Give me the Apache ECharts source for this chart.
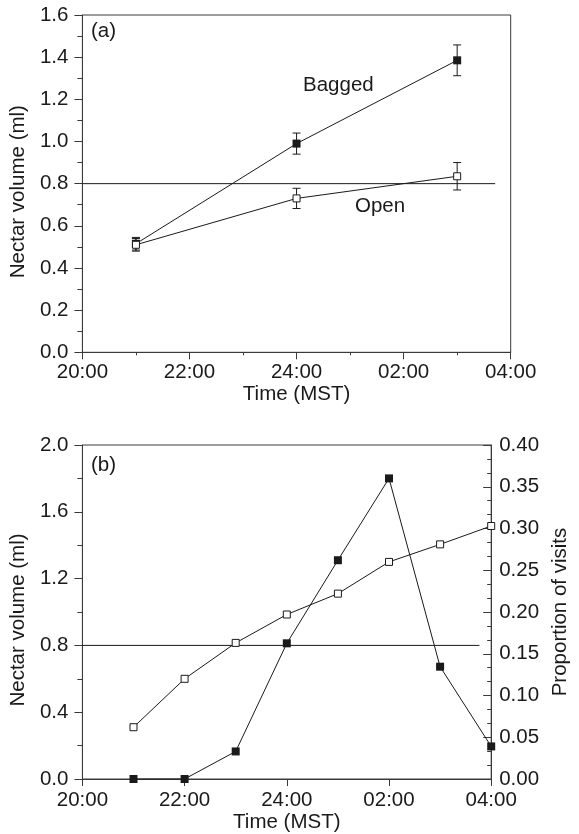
<!DOCTYPE html>
<html>
<head>
<meta charset="utf-8">
<script src="https://cdn.jsdelivr.net/npm/echarts@6/dist/echarts.min.js"></script>
<style>
html,body{margin:0;padding:0;background:#fff;}
#chart{width:579px;height:834px;}
</style>
</head>
<body>
<div id="chart"></div>
<script>
// ---- Data ----
const xTickLabels = ['20:00', '22:00', '24:00', '02:00', '04:00'];
const hoursA = [21, 24, 27];
const baggedA = [0.515, 0.99, 1.385];
const baggedErrA = [0.03, 0.05, 0.073];
const openA = [0.51, 0.73, 0.835];
const openErrA = [0.03, 0.048, 0.065];
const refLineA = [[20, 0.8], [27.71, 0.8]];

const hoursB = [21, 22, 23, 24, 25, 26, 27, 28];
const nectarB = [0.31, 0.60, 0.815, 0.985, 1.11, 1.30, 1.405, 1.515];
const visitsB = [0, 0, 0.033, 0.1625, 0.262, 0.36, 0.1345, 0.039];
const refLineB = [[20, 0.8], [27.77, 0.8]];

// ---- Styles ----
const ink = '#1a1a1a';
const axisInk = '#3a3a3a';
const FONT = 'Liberation Sans, Arial, Helvetica, sans-serif';
const FS = 20.5;

const chart = echarts.init(document.getElementById('chart'), null, {renderer: 'canvas'});

function xLabel(v) {
  const i = Math.round((v - 20) / 2);
  return xTickLabels[i] !== undefined ? xTickLabels[i] : '';
}

function makeX(gridIndex, minor, labelMargin, nameGap) {
  return {
    type: 'value', gridIndex: gridIndex, min: 20, max: 28, interval: 2,
    name: 'Time (MST)', nameLocation: 'middle', nameGap: nameGap,
    nameTextStyle: {fontFamily: FONT, fontSize: FS, color: ink},
    axisLine: {show: true, onZero: false, lineStyle: {color: axisInk, width: 1}},
    axisTick: {show: true, inside: false, length: 7, lineStyle: {color: axisInk}},
    minorTick: {show: minor, splitNumber: 2, length: 3, lineStyle: {color: axisInk}},
    axisLabel: {formatter: xLabel, fontFamily: FONT, fontSize: FS, color: ink, margin: labelMargin},
    splitLine: {show: false}
  };
}

function makeYLeft(gridIndex, max, interval) {
  return {
    type: 'value', gridIndex: gridIndex, min: 0, max: max, interval: interval,
    name: 'Nectar volume (ml)', nameLocation: 'middle', nameGap: 50, nameRotate: 90,
    nameTextStyle: {fontFamily: FONT, fontSize: FS, color: ink, padding: [0, 16, 0, 0]},
    axisLine: {show: true, lineStyle: {color: axisInk}},
    axisTick: {show: true, inside: false, length: 8, lineStyle: {color: axisInk}},
    minorTick: {show: true, splitNumber: 2, length: 5, lineStyle: {color: axisInk}},
    axisLabel: {formatter: v => v.toFixed(1), fontFamily: FONT, fontSize: FS, color: ink, margin: 14},
    splitLine: {show: false}
  };
}

function errRender(params, api) {
  const x = api.value(0), lo = api.value(1), hi = api.value(2);
  const pTop = api.coord([x, hi]);
  const pBot = api.coord([x, lo]);
  const w = 4;
  const st = {stroke: ink, lineWidth: 1};
  return {
    type: 'group',
    children: [
      {type: 'line', shape: {x1: pTop[0], y1: pTop[1], x2: pBot[0], y2: pBot[1]}, style: st},
      {type: 'line', shape: {x1: pTop[0] - w, y1: pTop[1], x2: pTop[0] + w, y2: pTop[1]}, style: st},
      {type: 'line', shape: {x1: pBot[0] - w, y1: pBot[1], x2: pBot[0] + w, y2: pBot[1]}, style: st}
    ]
  };
}

function errData(xs, ys, es) {
  return xs.map((x, i) => [x, ys[i] - es[i], ys[i] + es[i]]);
}
function pairs(xs, ys) { return xs.map((x, i) => [x, ys[i]]); }

const option = {
  animation: false,
  backgroundColor: '#fff',
  textStyle: {fontFamily: FONT},
  grid: [
    {left: 77.7, right: 68.3, top: 15, height: 337.3, show: true, borderColor: axisInk, borderWidth: 1, containLabel: false},
    {left: 77.7, right: 72.3, top: 445, height: 334, show: true, borderColor: axisInk, borderWidth: 1, containLabel: false}
  ],
  xAxis: [
    makeX(0, true, 10, 31),
    makeX(1, false, 11, 33)
  ],
  yAxis: [
    makeYLeft(0, 1.6, 0.2),
    makeYLeft(1, 2.0, 0.4),
    {
      type: 'value', gridIndex: 1, position: 'right', min: 0, max: 0.40, interval: 0.05,
      name: 'Proportion of visits', nameLocation: 'middle', nameGap: 54, nameRotate: 90,
      nameTextStyle: {fontFamily: FONT, fontSize: FS, color: ink},
      axisLine: {show: true, lineStyle: {color: axisInk}},
      axisTick: {show: true, inside: true, length: 8, lineStyle: {color: axisInk}},
      minorTick: {show: true, splitNumber: 3, length: 4, lineStyle: {color: axisInk}},
      axisLabel: {formatter: v => v.toFixed(2), fontFamily: FONT, fontSize: FS, color: ink, margin: 8},
      splitLine: {show: false}
    }
  ],
  series: [
    // Panel (a)
    {type: 'line', xAxisIndex: 0, yAxisIndex: 0, data: refLineA, showSymbol: false, symbol: 'none',
      lineStyle: {color: ink, width: 1}, silent: true, z: 1},
    {type: 'custom', xAxisIndex: 0, yAxisIndex: 0, renderItem: errRender,
      data: errData(hoursA, baggedA, baggedErrA), clip: false, z: 2},
    {type: 'custom', xAxisIndex: 0, yAxisIndex: 0, renderItem: errRender,
      data: errData(hoursA, openA, openErrA), clip: false, z: 2},
    {type: 'line', name: 'Bagged', xAxisIndex: 0, yAxisIndex: 0, data: pairs(hoursA, baggedA),
      symbol: 'rect', symbolSize: 8, lineStyle: {color: ink, width: 1},
      itemStyle: {color: ink, borderColor: ink, borderWidth: 0}, z: 3},
    {type: 'line', name: 'Open', xAxisIndex: 0, yAxisIndex: 0, data: pairs(hoursA, openA),
      symbol: 'rect', symbolSize: 7, lineStyle: {color: ink, width: 1},
      itemStyle: {color: '#fff', borderColor: ink, borderWidth: 1}, z: 4},
    // Panel (b)
    {type: 'line', xAxisIndex: 1, yAxisIndex: 1, data: refLineB, showSymbol: false, symbol: 'none',
      lineStyle: {color: ink, width: 1}, silent: true, z: 1},
    {type: 'line', name: 'Nectar', xAxisIndex: 1, yAxisIndex: 1, data: pairs(hoursB, nectarB),
      symbol: 'rect', symbolSize: 7, lineStyle: {color: ink, width: 1},
      itemStyle: {color: '#fff', borderColor: ink, borderWidth: 1}, clip: false, z: 4},
    {type: 'line', name: 'Visits', xAxisIndex: 1, yAxisIndex: 2, data: pairs(hoursB, visitsB),
      symbol: 'rect', symbolSize: 8, lineStyle: {color: ink, width: 1},
      itemStyle: {color: ink, borderWidth: 0}, clip: false, z: 3}
  ],
  graphic: [
    {type: 'text', left: 91, top: 21, style: {text: '(a)', font: FS + 'px ' + FONT, fill: ink}},
    {type: 'text', left: 91, top: 455, style: {text: '(b)', font: FS + 'px ' + FONT, fill: ink}},
    {type: 'text', left: 303, top: 75, style: {text: 'Bagged', font: FS + 'px ' + FONT, fill: ink}},
    {type: 'text', left: 355, top: 196, style: {text: 'Open', font: FS + 'px ' + FONT, fill: ink}}
  ]
};
chart.setOption(option);
</script>
</body>
</html>
